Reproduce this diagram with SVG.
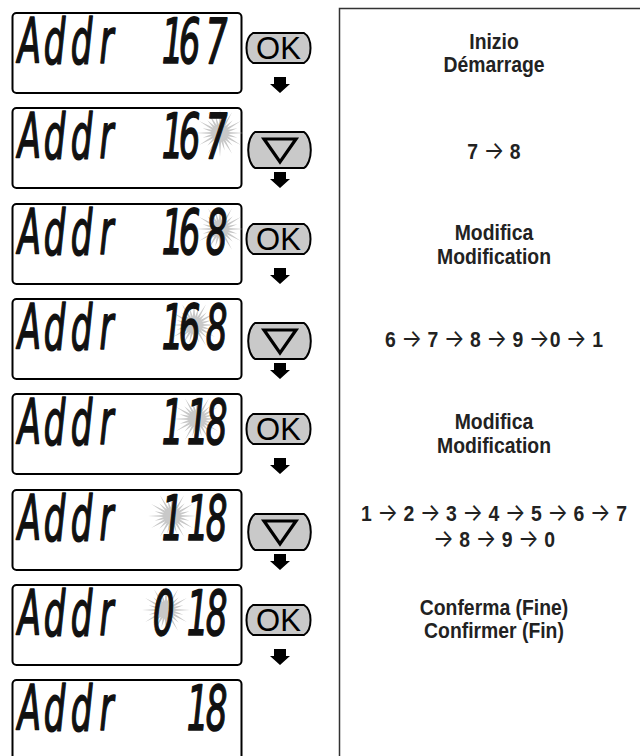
<svg xmlns="http://www.w3.org/2000/svg" xmlns:xlink="http://www.w3.org/1999/xlink" width="640" height="756" viewBox="0 0 640 756">
  <style>
    .panel { fill: #ffffff; stroke: #000000; stroke-width: 2; }
    .lcd { font-family: "DejaVu Sans", sans-serif; font-style: oblique; font-size: 62px; fill: #111111; stroke: #111111; stroke-width: 1.6; stroke-linejoin: round; text-anchor: middle; }
    .btn { fill: #c9c9c9; stroke: #000000; stroke-width: 2; }
    .btn-label { font-family: "Liberation Sans", Arial, sans-serif; font-size: 31px; fill: #000000; text-anchor: middle; }
    .tri { fill: none; stroke: #000000; stroke-width: 3.2; stroke-linejoin: miter; }
    .burst { fill: #c8c8c8; }
    .note { font-family: "Liberation Sans", Arial, sans-serif; font-weight: bold; font-size: 22px; fill: #222222; text-anchor: middle; }
    .arr { font-family: Inter, "DejaVu Sans", sans-serif; font-weight: 400; font-size: 25px; }
    .frame { fill: none; stroke: #333333; stroke-width: 1.5; }
    .down { fill: #000000; }
  </style>
  <defs>
    <!-- LCD window, positioned at the top of each step -->
    <rect id="lcd-window" class="panel" x="12.5" y="0" width="229" height="80" rx="4"/>
    <!-- flashing-digit halo -->
    <polygon id="burst" class="burst" points="24,0 8.43,1.11 17.39,4.66 7.85,3.25 20.78,12 6.74,5.17 12.73,12.73 5.17,6.74 12,20.78 3.25,7.85 4.66,17.39 1.11,8.43 0,24 -1.11,8.43 -4.66,17.39 -3.25,7.85 -12,20.78 -5.17,6.74 -12.73,12.73 -6.74,5.17 -20.78,12 -7.85,3.25 -17.39,4.66 -8.43,1.11 -24,0 -8.43,-1.11 -17.39,-4.66 -7.85,-3.25 -20.78,-12 -6.74,-5.17 -12.73,-12.73 -5.17,-6.74 -12,-20.78 -3.25,-7.85 -4.66,-17.39 -1.11,-8.43 0,-24 1.11,-8.43 4.66,-17.39 3.25,-7.85 12,-20.78 5.17,-6.74 12.73,-12.73 6.74,-5.17 20.78,-12 7.85,-3.25 17.39,-4.66 8.43,-1.11"/>
    <!-- OK key -->
    <g id="key-ok">
      <path class="btn" d="M253,20 H304 A10,16 0 0 1 304,50 H253 A10,16 0 0 1 253,20 Z"/>
      <text class="btn-label" x="278.5" y="46">OK</text>
    </g>
    <!-- down key -->
    <g id="key-down">
      <path class="btn" d="M255,24 H304 A10,19 0 0 1 304,60 H255 A10,19 0 0 1 255,24 Z"/>
      <polygon class="tri" points="264,31 296,31 280,54"/>
    </g>
    <!-- step-to-step arrow -->
    <polygon id="down-arrow" class="down" points="274,64 286,64 286,71 290,71 280,80 270,71 274,71"/>
  </defs>

  <!-- right-hand description column -->
  <rect class="frame" x="339.5" y="8.5" width="320" height="770"/>

  <g id="step1" transform="translate(0,13)">
    <use href="#lcd-window"/>
    <text class="lcd" transform="scale(0.55,1)" x="53.6 99.1 148.2 193.6" y="50">Addr</text>
    <text class="lcd" transform="scale(0.55,1)" x="313.6 344.5 393.6" y="50">167</text>
    <use href="#key-ok"/>
  </g>

  <g id="step2" transform="translate(0,108)">
    <use href="#lcd-window"/>
    <use href="#burst" x="220" y="25"/>
    <text class="lcd" transform="scale(0.55,1)" x="53.6 99.1 148.2 193.6" y="50">Addr</text>
    <text class="lcd" transform="scale(0.55,1)" x="313.6 344.5 393.6" y="50">167</text>
    <use href="#key-down"/>
  </g>

  <g id="step3" transform="translate(0,204)">
    <use href="#lcd-window"/>
    <use href="#burst" x="220" y="25"/>
    <text class="lcd" transform="scale(0.55,1)" x="53.6 99.1 148.2 193.6" y="50">Addr</text>
    <text class="lcd" transform="scale(0.55,1)" x="313.6 344.5 393.6" y="50">168</text>
    <use href="#key-ok"/>
  </g>

  <g id="step4" transform="translate(0,299)">
    <use href="#lcd-window"/>
    <use href="#burst" x="194" y="26"/>
    <text class="lcd" transform="scale(0.55,1)" x="53.6 99.1 148.2 193.6" y="50">Addr</text>
    <text class="lcd" transform="scale(0.55,1)" x="313.6 344.5 393.6" y="50">168</text>
    <use href="#key-down"/>
  </g>

  <g id="step5" transform="translate(0,394)">
    <use href="#lcd-window"/>
    <use href="#burst" x="197" y="25"/>
    <text class="lcd" transform="scale(0.55,1)" x="53.6 99.1 148.2 193.6" y="50">Addr</text>
    <text class="lcd" transform="scale(0.55,1)" x="313.6 359.1 393.6" y="50">118</text>
    <use href="#key-ok"/>
  </g>

  <g id="step6" transform="translate(0,490)">
    <use href="#lcd-window"/>
    <use href="#burst" x="172" y="26"/>
    <text class="lcd" transform="scale(0.55,1)" x="53.6 99.1 148.2 193.6" y="50">Addr</text>
    <text class="lcd" transform="scale(0.55,1)" x="313.6 359.1 393.6" y="50">118</text>
    <use href="#key-down"/>
  </g>

  <g id="step7" transform="translate(0,585)">
    <use href="#lcd-window"/>
    <use href="#burst" x="166" y="25"/>
    <text class="lcd" transform="scale(0.55,1)" x="53.6 99.1 148.2 193.6" y="50">Addr</text>
    <text class="lcd" transform="scale(0.55,1)" x="297.3 359.1 393.6" y="50">018</text>
    <use href="#key-ok"/>
  </g>

  <g id="step8" transform="translate(0,680)">
    <use href="#lcd-window"/>
    <text class="lcd" transform="scale(0.55,1)" x="53.6 99.1 148.2 193.6" y="50">Addr</text>
    <text class="lcd" transform="scale(0.55,1)" x="359.1 393.6" y="50">18</text>
  </g>

  <g id="connectors">
    <use href="#down-arrow" y="13"/>
    <use href="#down-arrow" y="108"/>
    <use href="#down-arrow" y="204"/>
    <use href="#down-arrow" y="299"/>
    <use href="#down-arrow" y="394"/>
    <use href="#down-arrow" y="490"/>
    <use href="#down-arrow" y="585"/>
  </g>

  <!-- condensed captions, centred on x=494 -->
  <g id="notes" transform="translate(494,0) scale(0.88,1)">
    <g id="note1">
      <text class="note" x="0" y="49">Inizio</text>
      <text class="note" x="0" y="72">Démarrage</text>
    </g>
    <g id="note2">
      <text class="note" x="0" y="159">7 <tspan class="arr">→</tspan> 8</text>
    </g>
    <g id="note3">
      <text class="note" x="0" y="240">Modifica</text>
      <text class="note" x="0" y="264">Modification</text>
    </g>
    <g id="note4">
      <text class="note" x="0" y="347">6 <tspan class="arr">→</tspan> 7 <tspan class="arr">→</tspan> 8 <tspan class="arr">→</tspan> 9 <tspan class="arr">→</tspan>0 <tspan class="arr">→</tspan> 1</text>
    </g>
    <g id="note5">
      <text class="note" x="0" y="429">Modifica</text>
      <text class="note" x="0" y="453">Modification</text>
    </g>
    <g id="note6">
      <text class="note" x="0" y="521">1 <tspan class="arr">→</tspan> 2 <tspan class="arr">→</tspan> 3 <tspan class="arr">→</tspan> 4 <tspan class="arr">→</tspan> 5 <tspan class="arr">→</tspan> 6 <tspan class="arr">→</tspan> 7</text>
      <text class="note" x="0" y="547"><tspan class="arr">→</tspan> 8 <tspan class="arr">→</tspan> 9 <tspan class="arr">→</tspan> 0</text>
    </g>
    <g id="note7">
      <text class="note" x="0" y="615">Conferma (Fine)</text>
      <text class="note" x="0" y="638">Confirmer (Fin)</text>
    </g>
  </g>
</svg>
